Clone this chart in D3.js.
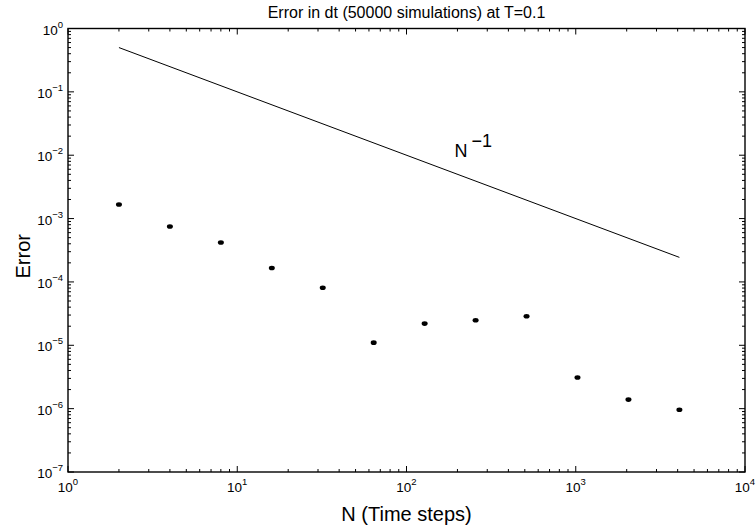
<!DOCTYPE html>
<html><head><meta charset="utf-8">
<script src="https://cdn.jsdelivr.net/npm/d3@7"></script>
<style>body{margin:0;background:#fff}svg{display:block;font-family:"Liberation Sans",Arial,sans-serif}</style>
</head><body><svg id="c" width="756" height="531"></svg>
<script>
const stepsN = [2,4,8,16,32,64,128,256,512,1024,2048,4096];
const errors = [1.67e-3,7.5e-4,4.2e-4,1.66e-4,8.1e-5,1.1e-5,2.2e-5,2.48e-5,2.87e-5,3.1e-6,1.39e-6,9.6e-7];
const refLineN = [2,4096];
const refLineVals = [0.5,1/4096];
const xTickExps = [0,1,2,3,4];
const yTickExps = [-7,-6,-5,-4,-3,-2,-1,0];
const titleText = "Error in dt (50000 simulations) at T=0.1";
const xLabel = "N (Time steps)";
const yLabel = "Error";

const svg = d3.select("#c");
const L=68,R=745,T=28.5,B=472;
const x = d3.scaleLog().domain([1,1e4]).range([L,R]);
const y = d3.scaleLog().domain([1e-7,1]).range([B,T]);

const g = svg.append("g").attr("stroke","#000").attr("stroke-width",1);
function minors(lo,hi){const a=[];for(let e=lo;e<hi;e++)for(let k=2;k<=9;k++)a.push(k*Math.pow(10,e));return a;}
const xMin=minors(0,4), yMin=minors(-7,0);
xTickExps.forEach(e=>{const px=x(Math.pow(10,e));
  g.append("line").attr("x1",px).attr("x2",px).attr("y1",B).attr("y2",B-6);
  g.append("line").attr("x1",px).attr("x2",px).attr("y1",T).attr("y2",T+6);});
xMin.forEach(v=>{const px=x(v);
  g.append("line").attr("x1",px).attr("x2",px).attr("y1",B).attr("y2",B-3);
  g.append("line").attr("x1",px).attr("x2",px).attr("y1",T).attr("y2",T+3);});
yTickExps.forEach(e=>{const py=y(Math.pow(10,e));
  g.append("line").attr("x1",L).attr("x2",L+6).attr("y1",py).attr("y2",py);
  g.append("line").attr("x1",R).attr("x2",R-6).attr("y1",py).attr("y2",py);});
yMin.forEach(v=>{const py=y(v);
  g.append("line").attr("x1",L).attr("x2",L+3).attr("y1",py).attr("y2",py);
  g.append("line").attr("x1",R).attr("x2",R-3).attr("y1",py).attr("y2",py);});
svg.append("rect").attr("x",L).attr("y",T).attr("width",R-L).attr("height",B-T)
  .attr("fill","none").attr("stroke","#000").attr("stroke-width",1.4);

xTickExps.forEach(e=>{
  const t=svg.append("text").attr("x",x(Math.pow(10,e))).attr("y",B+20).attr("text-anchor","middle").attr("font-size",13.5);
  t.append("tspan").text("10");
  t.append("tspan").attr("dy",-7).attr("font-size",9.5).text(String(e));
});
yTickExps.forEach(e=>{
  const t=svg.append("text").attr("x",L-5).attr("y",y(Math.pow(10,e))+6).attr("text-anchor","end").attr("font-size",13.5);
  t.append("tspan").text("10");
  t.append("tspan").attr("dy",-7).attr("font-size",9.5).text(e===0?"0":"\u2212"+Math.abs(e));
});

svg.append("path").datum(refLineN.map((n,i)=>[n,refLineVals[i]]))
  .attr("d",d3.line().x(d=>x(d[0])).y(d=>y(d[1])))
  .attr("fill","none").attr("stroke","#000").attr("stroke-width",1);

svg.append("g").selectAll("ellipse").data(stepsN.map((n,i)=>[n,errors[i]])).join("ellipse")
  .attr("cx",d=>x(d[0])).attr("cy",d=>y(d[1])).attr("rx",3).attr("ry",2.3).attr("fill","#000");

const ann=svg.append("text").attr("x",x(192)).attr("y",y(9.5e-3)).attr("font-size",18);
ann.append("tspan").text("N");
ann.append("tspan").attr("dx",4).attr("dy",-10).text("\u22121");

svg.append("text").attr("x",(L+R)/2).attr("y",18).attr("text-anchor","middle").attr("font-size",16).text(titleText);
svg.append("text").attr("x",(L+R)/2).attr("y",521).attr("text-anchor","middle").attr("font-size",20).text(xLabel);
svg.append("text").attr("transform",`translate(30,${(T+B)/2+6}) rotate(-90)`).attr("text-anchor","middle").attr("font-size",20).text(yLabel);
</script></body></html>
